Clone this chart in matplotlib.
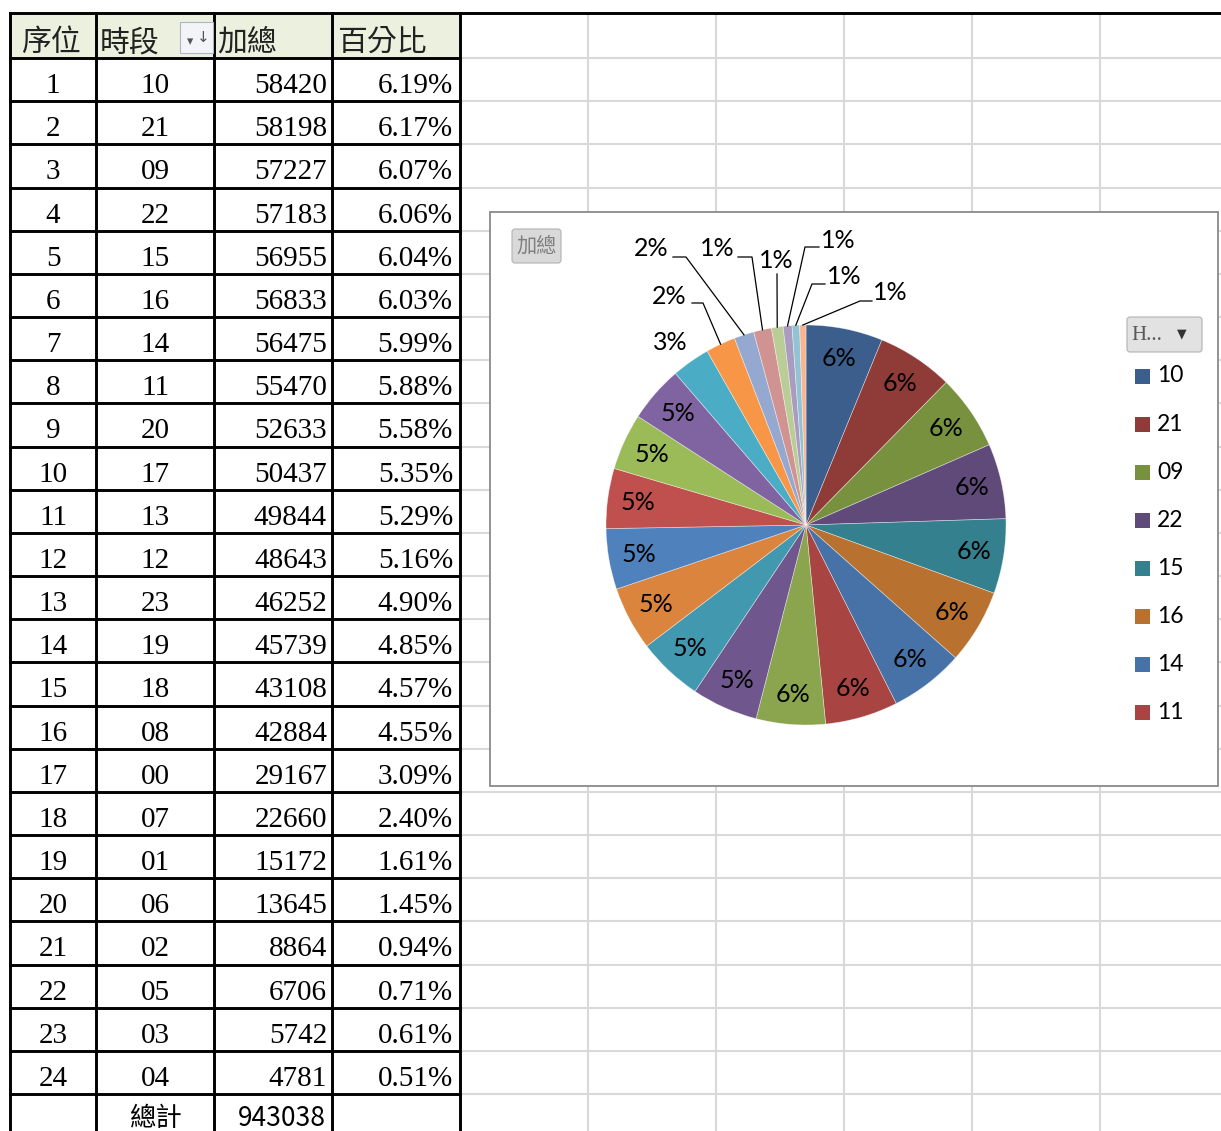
import matplotlib
matplotlib.use('Agg')
import matplotlib.pyplot as plt
from matplotlib.patches import Rectangle, FancyBboxPatch
import numpy as np

# sheet data (sorted by total, as in the pivot table)
rank = list(range(1, 25))
hours = ['10', '21', '09', '22', '15', '16', '14', '11', '20', '17', '13', '12',
         '23', '19', '18', '08', '00', '07', '01', '06', '02', '05', '03', '04']
totals = [58420, 58198, 57227, 57183, 56955, 56833, 56475, 55470, 52633, 50437,
          49844, 48643, 46252, 45739, 43108, 42884, 29167, 22660, 15172, 13645,
          8864, 6706, 5742, 4781]
header = ['序位', '時段', '加總', '百分比']
total_label = '總計'

grand_total = sum(totals)
pct_text = [f'{v / grand_total * 100:.2f}%' for v in totals]
pie_text = [f'{round(v / grand_total * 100)}%' for v in totals]

# excel 2007 palette: dark, medium, standard, light
slice_colors = ['#3B5E8C', '#8F3B38', '#77913F', '#5F4A7A', '#35808F', '#B8712F',
                '#4672A8', '#A84442', '#8AA54E', '#6F578E', '#4298AE', '#DB843D',
                '#4F81BD', '#C0504D', '#9BBB59', '#8064A2', '#4BACC6', '#F79646',
                '#95A9D0', '#D09391', '#BACD96', '#A99CBE', '#92C3D4', '#F9B591']
n_legend = 8

W, H = 1221, 1131
fig = plt.figure(figsize=(W / 100, H / 100), dpi=100)
ax = fig.add_axes([0, 0, 1, 1])
ax.set_xlim(0, W)
ax.set_ylim(H, 0)
ax.axis('off')

serif = ['Liberation Serif', 'DejaVu Serif']
cjk = ['Noto Sans CJK TC', 'DejaVu Sans']
sans = ['Lato', 'DejaVu Sans']

col_x = [10, 96, 214, 332, 460]
top, head_bot, row_h = 13, 58, 43.17
grid_x = [588, 716, 844, 972, 1100]
blk = 2.1
gry = 1.5

# light sheet gridlines right of the table
for k in range(26):
    y = head_bot + k * row_h
    ax.plot([col_x[-1], W], [y, y], color='#D9D9D9', lw=gry, zorder=1)
for x in grid_x:
    ax.plot([x, x], [top, H], color='#D9D9D9', lw=gry, zorder=1)

# table
ax.add_patch(Rectangle((col_x[0], top), col_x[-1] - col_x[0], head_bot - top,
                       facecolor='#EBF1DE', edgecolor='none', zorder=2))
ax.plot([col_x[0], W], [top, top], color='black', lw=blk, zorder=3)
for x in col_x:
    ax.plot([x, x], [top, H], color='black', lw=blk, zorder=3)
for k in range(25):
    y = head_bot + k * row_h
    ax.plot([col_x[0], col_x[-1]], [y, y], color='black', lw=blk, zorder=3)

head_x = [21, 100, 217, 337]
for hx, t in zip(head_x, header):
    ax.text(hx, 51, t, family=cjk, fontsize=21.5, color='#222222',
            ha='left', va='baseline', zorder=4)

# sort button in the header
ax.add_patch(Rectangle((180, 22), 33, 31, facecolor='#F2F4F8',
                       edgecolor='#AEB6C2', lw=0.8, zorder=4))
ax.text(190, 42, '▾', fontsize=9, color='#555555', ha='center', va='center', zorder=5)
ax.text(203, 37, '↓', fontsize=11, color='#555555', ha='center', va='center', zorder=5)

for i in range(24):
    base = head_bot + i * row_h + 35
    ax.text(53, base, str(rank[i]), family=serif, fontsize=21, ha='center', va='baseline', zorder=4)
    ax.text(155, base, hours[i], family=serif, fontsize=21, ha='center', va='baseline', zorder=4)
    ax.text(327, base, str(totals[i]), family=serif, fontsize=21, ha='right', va='baseline', zorder=4)
    ax.text(453, base, pct_text[i], family=serif, fontsize=21, ha='right', va='baseline', zorder=4)

ax.text(155, 1126, total_label, family=cjk, fontsize=19, ha='center', va='baseline', zorder=4)
ax.text(326, 1126, str(grand_total), family=cjk, fontsize=19, ha='right', va='baseline', zorder=4)

# chart area
ax.add_patch(Rectangle((490, 212), 728, 574, facecolor='white',
                       edgecolor='#8A8A8A', lw=1.3, zorder=6))
ax.add_patch(FancyBboxPatch((512, 229), 49, 34, boxstyle='round,pad=0,rounding_size=3',
                            facecolor='#D9D9D9', edgecolor='#B3B3B3', lw=0.8, zorder=7))
ax.text(536.5, 246, '加總', family=cjk, fontsize=14.5, color='#7F7F7F',
        ha='center', va='center', zorder=8)
ax.add_patch(FancyBboxPatch((1127, 317), 75, 35, boxstyle='round,pad=0,rounding_size=3',
                            facecolor='#E2E2E2', edgecolor='#B3B3B3', lw=0.8, zorder=7))
ax.text(1131, 335, 'H...', family=serif, fontsize=15, color='#595959',
        ha='left', va='center', zorder=8)
ax.text(1182, 334, '▼', fontsize=9, color='#333333', ha='center', va='center', zorder=8)

# legend (only the first entries fit)
for j in range(n_legend):
    ly = 376 + j * 48.1
    ax.add_patch(Rectangle((1135, ly - 7.5), 15, 15, facecolor=slice_colors[j],
                           edgecolor='none', zorder=8))
    ax.text(1157, ly, hours[j], family=sans, fontsize=16.5, ha='left', va='center', zorder=8)

# pie
cx, cy, R = 806, 525, 200
pax = fig.add_axes([(cx - R) / W, (H - cy - R) / H, 2 * R / W, 2 * R / H])
wedges, _ = pax.pie(totals, colors=slice_colors, startangle=90, counterclock=False,
                    wedgeprops=dict(edgecolor=(1, 1, 1, 0.5), linewidth=0.5))
pax.set_xlim(-1, 1)
pax.set_ylim(-1, 1)
pax.axis('off')


def to_pie(px, py):
    return (px - cx) / R, (cy - py) / R


mids = [np.deg2rad((w.theta1 + w.theta2) / 2) for w in wedges]
for i in range(16):
    pax.text(0.85 * np.cos(mids[i]), 0.85 * np.sin(mids[i]), pie_text[i],
             family=sans, fontsize=18, ha='center', va='center')

# small slices: label outside with leader lines (label centre, leader knee points)
outside = {16: ((670, 343), []),
           17: ((669, 297), [(692, 303), (703, 303)]),
           18: ((651, 248), [(673, 257), (686, 257)]),
           19: ((717, 249), [(738, 257), (752, 257)]),
           20: ((776, 260), [(777, 274)]),
           21: ((838, 240), [(819, 247), (805, 247)]),
           22: ((844, 277), [(825, 284), (812, 284)]),
           23: ((890, 293), [(872, 301), (860, 301)])}
for i, (lab, knees) in outside.items():
    lx, ly = to_pie(*lab)
    pax.text(lx, ly, pie_text[i], family=sans, fontsize=18,
             ha='center', va='center', clip_on=False)
    if knees:
        pts = [to_pie(*p) for p in knees] + [(np.cos(mids[i]), np.sin(mids[i]))]
        xs, ys = zip(*pts)
        pax.plot(xs, ys, color='black', lw=0.9, clip_on=False)

fig.savefig('out.png', dpi=100)
